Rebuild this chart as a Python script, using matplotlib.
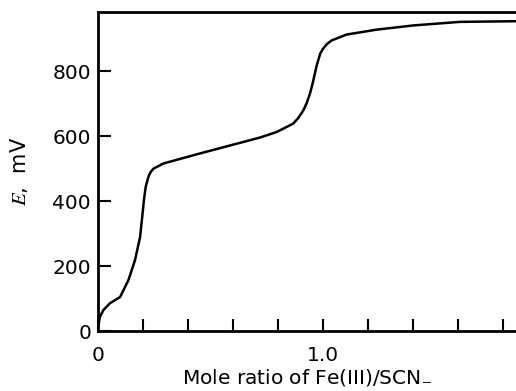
import matplotlib
matplotlib.use("Agg")
import matplotlib.pyplot as plt

plt.rcParams["font.family"] = "DejaVu Sans"
plt.rcParams["mathtext.fontset"] = "stix"

# titration curve
ratio = [0.0, 0.008, 0.024, 0.053, 0.098, 0.135, 0.164, 0.187, 0.196, 0.204,
         0.212, 0.224, 0.234, 0.246, 0.29, 0.453, 0.72, 0.794, 0.868, 0.89,
         0.913, 0.928, 0.942, 0.953, 0.964, 0.971, 0.979, 0.988, 1.001, 1.018,
         1.039, 1.105, 1.238, 1.401, 1.609, 1.858]
E_mV = [10, 44, 65, 86, 105, 157, 218, 290, 350, 403,
        445, 475, 490, 500, 516, 547, 596, 613, 639, 656,
        680, 703, 731, 760, 793, 815, 834, 855, 870, 884,
        895, 913, 928, 941, 952, 954]

xticks = [0, 0.2, 0.4, 0.6, 0.8, 1.0, 1.2, 1.4, 1.6, 1.8]
xticklabels = ["0", "", "", "", "", "1.0", "", "", "", ""]
yticks = [0, 200, 400, 600, 800]

fig = plt.figure(figsize=(5.16, 3.91), dpi=100)
ax = fig.add_axes([0.190, 0.153, 0.810, 0.816])
ax.plot(ratio, E_mV, color="black", lw=1.8)

ax.set_xlim(0, 1.858)
ax.set_ylim(0, 982)
ax.set_xticks(xticks)
ax.set_xticklabels(xticklabels)
ax.set_yticks(yticks)
ax.tick_params(direction="in", length=9, width=1.5, labelsize=14.5, pad=5)
ax.tick_params(axis="x", pad=11)
for s in ["left", "bottom", "top"]:
    ax.spines[s].set_linewidth(2)
ax.spines["right"].set_visible(False)

ax.set_xlabel("Mole ratio of Fe(III)/SCN$_{-}$", fontsize=14.5, labelpad=1)
ax.set_ylabel("$E$,  mV", fontsize=15, labelpad=16)

fig.savefig("out.png", dpi=100)
